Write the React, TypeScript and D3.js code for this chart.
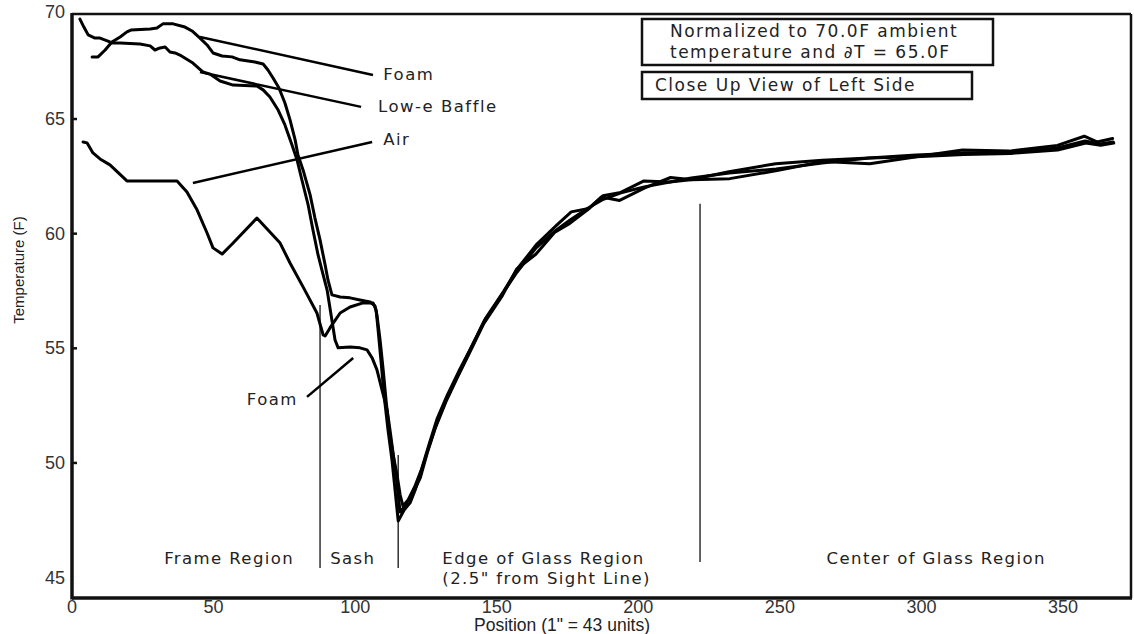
import React from 'react'
import { scaleLinear, line } from 'd3'

// temperature profiles, position (units) vs temperature (F)
const foam: [number, number][] = [
  [7.1, 67.71], [9.2, 67.71], [11.7, 68.01], [14.1, 68.36], [17.0, 68.58], [19.4, 68.8], [20.8, 68.88],
  [27.6, 68.93], [30.0, 68.97], [32.1, 69.15], [35.7, 69.15], [39.9, 69.01], [42.4, 68.84], [45.2, 68.53],
  [47.7, 68.23], [49.8, 67.88], [53.0, 67.75], [56.5, 67.71], [59.3, 67.58], [64.6, 67.49], [67.5, 67.4],
  [69.2, 67.14], [71.0, 66.79], [73.1, 66.35], [75.2, 65.7], [77.0, 64.96], [78.8, 64.09], [79.8, 63.43],
  [81.6, 62.78], [84.1, 61.69], [85.8, 60.68], [87.6, 59.73], [89.4, 58.63], [90.4, 57.98], [91.8, 57.33],
  [94.7, 57.24], [98.2, 57.2], [101.7, 57.11], [105.3, 57.02], [107.0, 56.85], [107.7, 56.45], [108.8, 55.36],
  [109.9, 54.06], [110.9, 52.75], [112.0, 51.44], [113.4, 50.35], [114.8, 49.48], [115.9, 48.6], [116.9, 48.12],
  [118.7, 48.39], [121.0, 48.95], [123.5, 49.75], [126.2, 50.85], [129.0, 51.95], [132.5, 52.95], [136.8, 54.05],
  [141.0, 55.05], [146.0, 56.3], [152.5, 57.5], [157.5, 58.5], [164.2, 59.55], [171.0, 60.35], [176.3, 60.95],
  [182.5, 61.1], [187.5, 61.65], [193.8, 61.8], [202.0, 62.3], [211.0, 62.25], [218.5, 62.35], [232.0, 62.7],
  [248.5, 63.05], [265.0, 63.2], [281.5, 63.3], [298.0, 63.35], [314.5, 63.65], [331.0, 63.6], [348.0, 63.85],
  [357.5, 64.25], [362.0, 64.0], [367.5, 64.15]
]

const lowEBaffle: [number, number][] = [
  [2.8, 69.36], [4.2, 69.01], [5.7, 68.67], [8.1, 68.53], [9.9, 68.53], [12.7, 68.4], [14.1, 68.32],
  [17.0, 68.32], [24.0, 68.27], [27.6, 68.19], [29.3, 68.01], [31.1, 68.1], [32.9, 68.14], [34.6, 67.92],
  [36.4, 67.88], [38.1, 67.79], [42.7, 67.44], [46.3, 67.05], [48.7, 66.96], [52.3, 66.66], [56.9, 66.48],
  [65.3, 66.44], [67.5, 66.27], [69.9, 65.96], [72.8, 65.39], [75.2, 64.74], [77.7, 63.87], [79.5, 63.21],
  [81.2, 62.34], [83.4, 61.25], [85.1, 60.16], [86.9, 59.07], [88.7, 58.2], [90.1, 57.54], [91.5, 56.45],
  [92.9, 55.36], [94.0, 55.02], [98.2, 55.06], [101.7, 55.02], [104.2, 54.93], [106.0, 54.58], [107.7, 54.06],
  [109.5, 53.18], [111.3, 52.31], [112.3, 51.44], [113.4, 50.44], [114.4, 49.48], [115.2, 48.6], [115.9, 47.86],
  [117.6, 48.12], [120.5, 48.7], [123.0, 49.35], [125.5, 50.45], [128.4, 51.55], [132.0, 52.65], [136.0, 53.7],
  [140.4, 54.8], [145.3, 56.05], [152.0, 57.3], [157.0, 58.45], [163.8, 59.1], [170.4, 60.05], [175.8, 60.45],
  [182.2, 61.05], [187.0, 61.6], [193.4, 61.45], [202.3, 62.0], [211.4, 62.45], [218.9, 62.35], [232.3, 62.4],
  [249.0, 62.75], [265.2, 63.15], [281.7, 63.05], [298.3, 63.35], [315.0, 63.45], [331.5, 63.5], [348.1, 63.65],
  [358.0, 63.95], [363.3, 63.85], [367.9, 63.95]
]

const air: [number, number][] = [
  [3.9, 64.0], [5.3, 63.96], [7.4, 63.52], [9.9, 63.26], [13.4, 63.0], [19.4, 62.3], [37.1, 62.3],
  [40.6, 61.82], [44.2, 61.03], [47.7, 60.03], [49.8, 59.38], [53.0, 59.11], [56.9, 59.59], [65.3, 60.68],
  [73.5, 59.59], [77.0, 58.72], [81.6, 57.68], [86.5, 56.54], [88.7, 55.58], [89.4, 55.54], [91.1, 55.89],
  [94.7, 56.54], [98.2, 56.8], [102.8, 56.98], [106.3, 56.98], [107.4, 56.67], [108.1, 55.8], [109.1, 54.49],
  [110.2, 52.97], [111.6, 51.44], [113.0, 50.13], [114.1, 48.82], [114.8, 47.95], [115.2, 47.47], [117.3, 47.95],
  [119.4, 48.26], [121.2, 48.82], [122.9, 49.48], [125.7, 50.57], [128.6, 51.66], [132.1, 52.75], [136.3, 53.84],
  [140.6, 54.93], [145.5, 56.15], [152.2, 57.41], [157.2, 58.33], [163.9, 59.38], [170.6, 60.12], [175.9, 60.6],
  [182.3, 61.12], [187.2, 61.47], [193.6, 61.77], [202.1, 62.04], [211.2, 62.25], [218.7, 62.43], [232.1, 62.65],
  [248.7, 62.82], [264.9, 63.08], [281.5, 63.3], [298.1, 63.43], [314.7, 63.52], [331.3, 63.56], [347.9, 63.74],
  [357.8, 64.04], [363.1, 63.91], [367.7, 64.0]
]

const xTicks = [0, 50, 100, 150, 200, 250, 300, 350]
const yTicks = [45, 50, 55, 60, 65, 70]
const yMarks = [50, 55, 60, 65]

// region boundaries: [x, yTop, yBottom]
const dividers: [number, number, number][] = [[87.6, 56.89, 45.42], [115.2, 50.35, 45.42], [221.8, 61.3, 45.68]]

const pointers = [
  { text: 'Foam', from: [45.2, 68.58], to: [106.3, 66.92], at: [109.9, 66.92], anchor: 'start' },
  { text: 'Low-e Baffle', from: [45.2, 67.05], to: [102.1, 65.53], at: [108.1, 65.53], anchor: 'start' },
  { text: 'Air', from: [42.7, 62.21], to: [106.0, 64.0], at: [109.9, 64.09], anchor: 'start' },
  { text: 'Foam', from: [99.3, 54.58], to: [83.0, 52.88], at: [79.8, 52.75], anchor: 'end' }
]

const regions = [
  { lines: ['Frame Region'], x: 55.5, anchor: 'middle' },
  { lines: ['Sash'], x: 91.2, anchor: 'start' },
  { lines: ['Edge of Glass Region', '(2.5" from Sight Line)'], x: 130.8, anchor: 'start' },
  { lines: ['Center of Glass Region'], x: 305.2, anchor: 'middle' }
]

const W = 1134
const H = 634
const left = 72
const right = 1131
const top = 14
const bottom = 598

const x = scaleLinear().domain([0, 374]).range([left, right])
const y = scaleLinear().domain([44.11, 69.58]).range([bottom, top])

const path = line<[number, number]>().x(d => x(d[0])).y(d => y(d[1]))

const noteFont = '"DejaVu Sans", sans-serif'
const axisFont = '"Liberation Sans", Arial, sans-serif'

export default function App() {
  return (
    <svg width={W} height={H} style={{ position: 'absolute', left: 0, top: 0, background: '#fff' }}>
      {/* frame */}
      <line x1={left} y1={top} x2={right} y2={top} stroke='#111' strokeWidth={2.5} />
      <line x1={right} y1={top} x2={right} y2={bottom} stroke='#111' strokeWidth={2.5} />
      <line x1={left} y1={top - 1} x2={left} y2={bottom + 1.5} stroke='#111' strokeWidth={3.5} />
      <line x1={left} y1={bottom} x2={right + 1} y2={bottom} stroke='#111' strokeWidth={3.5} />

      {yMarks.map(v => (
        <line key={v} x1={left} x2={left + 5} y1={y(v)} y2={y(v)} stroke='#111' strokeWidth={2.5} />
      ))}
      {yTicks.map(v => (
        <text key={v} x={65} y={Math.max(y(v), 12)} textAnchor='end' dominantBaseline='central'
          fontFamily={axisFont} fontSize={18} fill='#333'>{v}</text>
      ))}
      {xTicks.map(v => (
        <text key={v} x={x(v)} y={607} textAnchor='middle' dominantBaseline='central'
          fontFamily={axisFont} fontSize={18} fill='#333'>{v}</text>
      ))}
      <text x={562} y={625} textAnchor='middle' dominantBaseline='central' fontFamily={axisFont} fontSize={17.5} fill='#222'>
        Position (1" = 43 units)
      </text>
      <text transform='translate(18,270) rotate(-90)' textAnchor='middle' dominantBaseline='central'
        fontFamily={axisFont} fontSize={15} fill='#222'>Temperature (F)</text>

      {/* region dividers and names */}
      {dividers.map(([dx, y1, y2], i) => (
        <line key={i} x1={x(dx)} x2={x(dx)} y1={y(y1)} y2={y(y2)} stroke='#222' strokeWidth={1.4} />
      ))}
      {regions.map((r, i) => (
        <text key={i} x={x(r.x)} y={564} textAnchor={r.anchor as any} fontFamily={noteFont} fontSize={16.5}
          letterSpacing={1.4} fill='#222'>
          {r.lines.map((l, j) => <tspan key={j} x={x(r.x)} dy={j === 0 ? 0 : 20}>{l}</tspan>)}
        </text>
      ))}

      {/* curves */}
      {[foam, lowEBaffle, air].map((s, i) => (
        <path key={i} d={path(s) ?? ''} fill='none' stroke='#000' strokeWidth={3} strokeLinejoin='round' strokeLinecap='round' />
      ))}

      {/* pointers */}
      {pointers.map((p, i) => (
        <g key={i}>
          <line x1={x(p.from[0])} y1={y(p.from[1])} x2={x(p.to[0])} y2={y(p.to[1])} stroke='#000' strokeWidth={2.5} />
          <text x={x(p.at[0])} y={y(p.at[1])} textAnchor={p.anchor as any} dominantBaseline='central'
            fontFamily={noteFont} fontSize={16.5} letterSpacing={1.5} fill='#222'>{p.text}</text>
        </g>
      ))}

      {/* boxes */}
      <rect x={642} y={19} width={351} height={46} fill='#fff' stroke='#111' strokeWidth={2.5} />
      <text x={670} y={37} fontFamily={noteFont} fontSize={17} letterSpacing={1.5} fill='#222'>Normalized to 70.0F ambient</text>
      <text x={670} y={58} fontFamily={noteFont} fontSize={17} letterSpacing={1.5} fill='#222'>temperature and ∂T = 65.0F</text>
      <rect x={642} y={72} width={330} height={27} fill='#fff' stroke='#111' strokeWidth={2.5} />
      <text x={655} y={91} fontFamily={noteFont} fontSize={17} letterSpacing={1.5} fill='#222'>Close Up View of Left Side</text>
    </svg>
  )
}
